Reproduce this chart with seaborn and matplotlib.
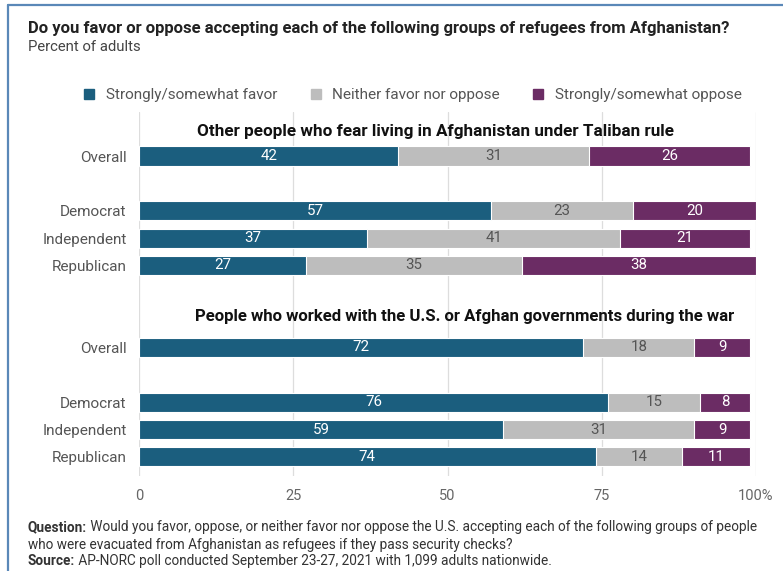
import pandas as pd
import seaborn as sns
import matplotlib.pyplot as plt
from matplotlib.lines import Line2D

# data
rows = ['Overall', 'Democrat', 'Independent', 'Republican']
group_titles = ['Other people who fear living in Afghanistan under Taliban rule',
                'People who worked with the U.S. or Afghan governments during the war']
favor_taliban = [42, 57, 37, 27]
neither_taliban = [31, 23, 41, 35]
oppose_taliban = [26, 20, 21, 38]
favor_worked = [72, 76, 59, 74]
neither_worked = [18, 15, 31, 14]
oppose_worked = [9, 8, 9, 11]
legend_labels = ['Strongly/somewhat favor', 'Neither favor nor oppose', 'Strongly/somewhat oppose']
x_ticks = [0, 25, 50, 75, 100]
x_tick_labels = ['0', '25', '50', '75', '100%']

BLUE = '#1b5e7e'
GRAY = '#bdbdbd'
PURPLE = '#6b2c64'

#%%
# long table, one row per bar
recs = []
for g, (fav, nei, opp) in enumerate([(favor_taliban, neither_taliban, oppose_taliban),
                                     (favor_worked, neither_worked, oppose_worked)]):
    for r, f, n, o in zip(rows, fav, nei, opp):
        recs.append({'key': f'g{g}|{r}', 'label': r, 'favor': f, 'neither': n, 'oppose': o})
df = pd.DataFrame(recs)
df['cum_neither'] = df['favor'] + df['neither']
df['cum_oppose'] = df['cum_neither'] + df['oppose']

# category order with empty slots for section titles and gaps
order = ['t0', 'g0|Overall', 's0', 'g0|Democrat', 'g0|Independent', 'g0|Republican',
         's1', 't1', 'g1|Overall', 's2', 'g1|Democrat', 'g1|Independent', 'g1|Republican']
tick_labels = [k.split('|')[1] if '|' in k else '' for k in order]

#%%
sns.set_style('white')
plt.rcParams['font.family'] = ['Roboto', 'DejaVu Sans']

fig = plt.figure(figsize=(7.83, 5.71), dpi=100)
ax = fig.add_axes([139 / 783, 1 - 476 / 571, 617 / 783, (476 - 112) / 571])

for col, colour in [('cum_oppose', PURPLE), ('cum_neither', GRAY), ('favor', BLUE)]:
    sns.barplot(data=df, y='key', x=col, order=order, color=colour, orient='h',
                width=0.7, edgecolor='white', linewidth=0.8, ax=ax, errorbar=None,
                saturation=1)

# segment labels
for i, row in df.iterrows():
    y = order.index(row['key'])
    ax.text(row['favor'] / 2, y, str(row['favor']), ha='center', va='center',
            color='white', fontsize=10.8)
    ax.text(row['favor'] + row['neither'] / 2, y, str(row['neither']), ha='center',
            va='center', color='#555555', fontsize=10.8)
    ax.text(row['cum_neither'] + row['oppose'] / 2, y, str(row['oppose']), ha='center',
            va='center', color='white', fontsize=10.8)

# section titles
ax.text(48, order.index('t0') + 0.1, group_titles[0], ha='center', va='center',
        fontsize=12.3, fontweight='bold', color='#111111')
ax.text(52.7, order.index('t1') - 0.15, group_titles[1], ha='center', va='center',
        fontsize=12.1, fontweight='bold', color='#111111')

ax.set_xlim(0, 100)
ax.set_ylim(12.7, -0.61)
ax.set_yticks(range(len(order)))
ax.set_yticklabels(tick_labels, fontsize=11, color='#555555')
ax.set_xticks(x_ticks)
ax.set_xticklabels(x_tick_labels, fontsize=10.5, color='#666666')
ax.tick_params(axis='both', length=0, pad=9)
ax.set_xlabel('')
ax.set_ylabel('')
for s in ax.spines.values():
    s.set_visible(False)
ax.xaxis.grid(True, color='#dddddd', linewidth=0.9)
ax.set_axisbelow(True)

# legend
handles = [Line2D([], [], marker='s', linestyle='', color=c, markersize=7)
           for c in [BLUE, GRAY, PURPLE]]
fig.legend(handles, legend_labels, loc='center', bbox_to_anchor=(0.521, 1 - 95 / 571),
           ncol=3, frameon=False, fontsize=11, labelcolor='#555555',
           handletextpad=0.1, columnspacing=1.5)

# titles
fig.text(28 / 783, 1 - 28 / 571, 'Do you favor or oppose accepting each of the following groups of refugees from Afghanistan?',
         fontsize=12, fontweight='bold', color='#222222', va='center')
fig.text(28 / 783, 1 - 47 / 571, 'Percent of adults', fontsize=10.7, color='#444444', va='center')

# footnote with bold lead words
fig.canvas.draw()
renderer = fig.canvas.get_renderer()
notes = [('Question:', ' Would you favor, oppose, or neither favor nor oppose the U.S. accepting each of the following groups of people', 527),
         ('', 'who were evacuated from Afghanistan as refugees if they pass security checks?', 545),
         ('Source:', ' AP-NORC poll conducted September 23-27, 2021 with 1,099 adults nationwide.', 561)]
for bold, rest, ypx in notes:
    x0 = 28 / 783
    if bold:
        t = fig.text(x0, 1 - ypx / 571, bold, fontsize=9.8, fontweight='bold', color='#333333', va='center')
        bb = t.get_window_extent(renderer)
        x0 = bb.x1 / fig.bbox.width
    fig.text(x0, 1 - ypx / 571, rest, fontsize=9.8, color='#333333', va='center')

# frame lines of the screenshot
fig.add_artist(Line2D([8 / 783, 8 / 783], [0, 1 - 5 / 571], transform=fig.transFigure,
                      color='#5a88b8', linewidth=1.6))
fig.add_artist(Line2D([8 / 783, 1], [1 - 5 / 571, 1 - 5 / 571], transform=fig.transFigure,
                      color='#5a88b8', linewidth=1.6))

fig.savefig('out.png', dpi=100)
